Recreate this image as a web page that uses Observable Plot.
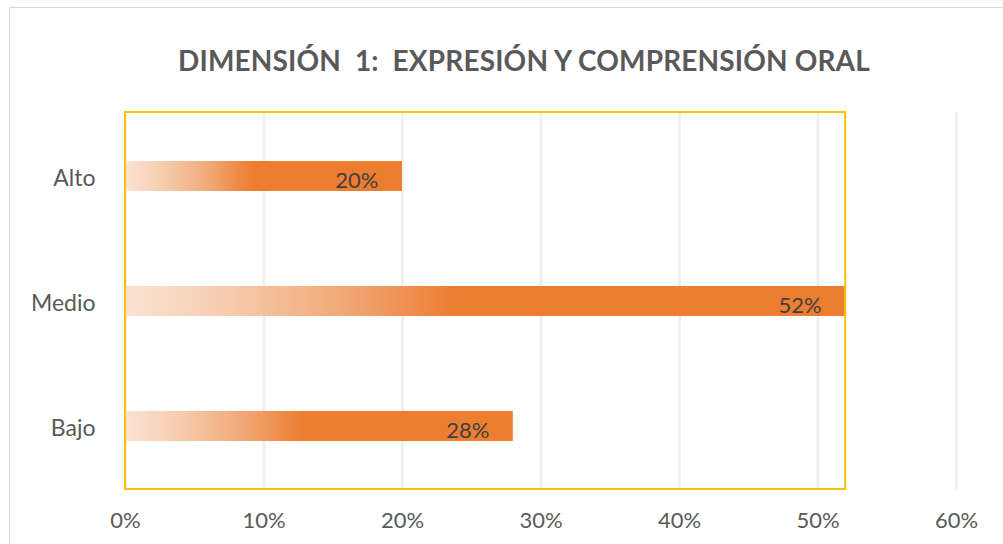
<!DOCTYPE html>
<html><head><meta charset="utf-8">
<script src="https://cdn.jsdelivr.net/npm/d3@7"></script>
<script src="https://cdn.jsdelivr.net/npm/@observablehq/plot@0.6"></script>
<style>
body{margin:0;background:#fff;width:1003px;height:544px;overflow:hidden;position:relative;font-family:Lato,"Open Sans",sans-serif;}
#frame{position:absolute;left:9px;top:7px;width:1100px;height:600px;border:1.5px solid #d9d9d9;}
#title{position:absolute;left:0;width:1048px;top:43px;text-align:center;font-weight:bold;font-size:28px;color:#595959;white-space:pre;letter-spacing:0.15px;}
#chart{position:absolute;left:0;top:0;}
</style></head><body>
<div id="frame"></div>
<div id="title">DIMENSIÓN  1:  EXPRESIÓN Y COMPRENSIÓN ORAL</div>
<div id="chart"></div>
<script>
const categories = ["Alto", "Medio", "Bajo"];
const values = [0.20, 0.52, 0.28];
const xTicks = [0, 0.1, 0.2, 0.3, 0.4, 0.5, 0.6];

const data = categories.map((c, i) => ({category: c, value: values[i]}));
const pct = d3.format(".0%");

const chart = Plot.plot({
  width: 1003, height: 544,
  marginLeft: 125, marginRight: 47, marginTop: 112, marginBottom: 55,
  style: {background: "transparent", fontFamily: "Lato, sans-serif", fontSize: "22px", color: "#595959"},
  x: {domain: [0, 0.6], label: null},
  y: {domain: categories, paddingInner: 0.76, paddingOuter: 0.38, label: null},
  marks: [
    Plot.ruleX(xTicks, {stroke: "#f0f0f0", strokeWidth: 3}),
    Plot.axisX({ticks: xTicks, tickFormat: pct, tickSize: 0, tickPadding: 23, label: null}),
    Plot.axisY({tickSize: 0, tickPadding: 30, dy: 2, fontSize: 23, label: null}),
    Plot.barX(data, {x: "value", y: "category", fill: "url(#barGrad)"}),
    Plot.text(data, {x: "value", y: "category", text: d => pct(d.value), textAnchor: "end", dx: -24, dy: 4, fill: "#404040", fontSize: 22}),
    Plot.rect([d3.max(values)], {x1: 0, x2: d => d, stroke: "#ffc000", strokeWidth: 2, fill: "none"})
  ]
});

const svg = d3.select(chart);
const grad = svg.insert("defs", ":first-child").append("linearGradient")
  .attr("id", "barGrad").attr("x1", "0").attr("x2", "1").attr("y1", "0").attr("y2", "0");
[[0, "#fae3d3"], [0.15, "#f6caab"], [0.3, "#f1a978"], [0.46, "#ed7d31"], [1, "#ed7d31"]]
  .forEach(([o, c]) => grad.append("stop").attr("offset", o).attr("stop-color", c));

document.getElementById("chart").appendChild(chart);
</script>
</body></html>
